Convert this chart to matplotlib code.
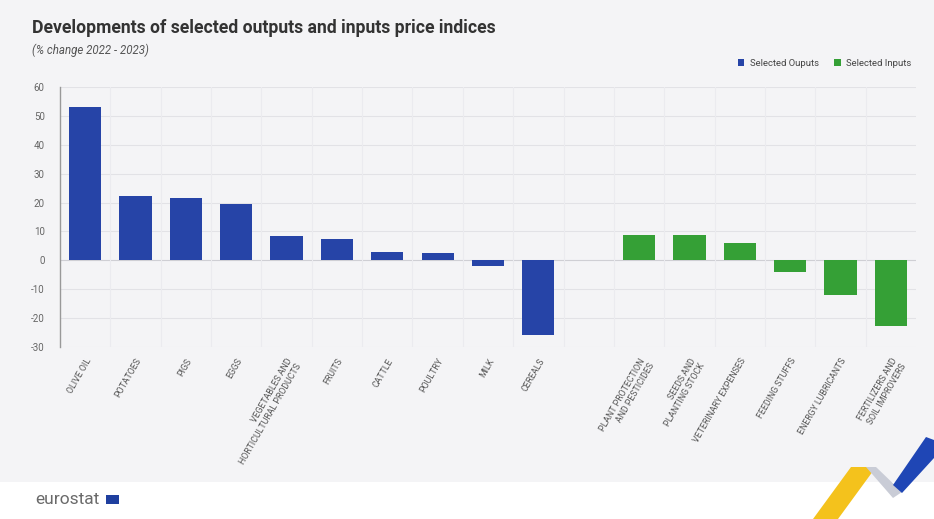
import matplotlib.pyplot as plt
from matplotlib.patches import Polygon, Rectangle
import numpy as np

plt.rcParams['font.family'] = ['Roboto', 'DejaVu Sans']

outputs = ['OLIVE OIL', 'POTATOES', 'PIGS', 'EGGS',
           'VEGETABLES AND\nHORTICULTURAL PRODUCTS', 'FRUITS', 'CATTLE',
           'POULTRY', 'MILK', 'CEREALS']
output_vals = [53.1, 22.4, 21.5, 19.4, 8.3, 7.3, 3.0, 2.4, -1.8, -25.8]

inputs = ['PLANT PROTECTION\nAND PESTICIDES', 'SEEDS AND\nPLANTING STOCK',
          'VETERINARY EXPENSES', 'FEEDING STUFFS', 'ENERGY LUBRICANTS',
          'FERTILIZERS AND\nSOIL IMPROVERS']
input_vals = [8.9, 8.9, 5.9, -4.1, -12.0, -22.8]

yticks = [-30, -20, -10, 0, 10, 20, 30, 40, 50, 60]

BLUE = '#2644a7'
GREEN = '#35a036'
BG = '#f4f4f6'

fig = plt.figure(figsize=(9.34, 5.19), dpi=100)
fig.patch.set_facecolor('white')
# grey panel behind the chart
fig.add_artist(Rectangle((0, 37 / 519), 1, 1 - 37 / 519, transform=fig.transFigure,
                         facecolor=BG, edgecolor='none', zorder=-10))

ax = fig.add_axes([60 / 934, 1 - 347 / 519, 856 / 934, 260 / 519])
ax.set_facecolor(BG)

x_out = np.arange(len(outputs))
x_in = np.arange(len(inputs)) + len(outputs) + 1
ax.bar(x_out, output_vals, width=0.64, color=BLUE, zorder=3, label='Selected Ouputs')
ax.bar(x_in, input_vals, width=0.64, color=GREEN, zorder=3, label='Selected Inputs')

n = len(outputs) + 1 + len(inputs)
ax.set_xlim(-0.5, n - 0.5)
ax.set_ylim(-30, 60)
ax.set_yticks(yticks)
ax.set_yticklabels([str(v) for v in yticks], fontsize=7, color='#666666')
ax.tick_params(axis='y', length=0, pad=11)

ax.set_xticks(list(x_out) + list(x_in))
ax.set_xticklabels(outputs + inputs, rotation=60, ha='right', rotation_mode='anchor',
                   fontsize=6.3, color='#555555', multialignment='right')
ax.tick_params(axis='x', length=0, pad=7)

# grid
for v in yticks:
    ax.axhline(v, color='#e2e2e6' if v != 0 else '#cfcfd4', lw=0.8, zorder=1)
for b in np.arange(0.5, n - 0.5, 1):
    ax.axvline(b, color='#ebebef', lw=0.8, zorder=1)

for s in ['top', 'right', 'bottom']:
    ax.spines[s].set_visible(False)
ax.spines['left'].set_color('#999999')
ax.spines['left'].set_linewidth(1.0)

# title and subtitle
fig.text(32 / 934, 1 - 28 / 519, 'Developments of selected outputs and inputs price indices',
         fontsize=12.7, fontweight='bold', color='#333333', va='center', ha='left')
fig.text(32 / 934, 1 - 50 / 519, '(% change 2022 - 2023)', fontsize=8.3, style='italic',
         color='#555555', va='center', ha='left')

leg = fig.legend(loc='center right', bbox_to_anchor=(1 - 14 / 934, 1 - 63 / 519), ncol=2,
                 frameon=False, fontsize=6.8, handlelength=0.7, handleheight=0.7,
                 columnspacing=1.6, handletextpad=0.6)
for t in leg.get_texts():
    t.set_color('#444444')

# eurostat logo
fig.text(35 / 934, 1 - 499 / 519, 'eurostat', fontsize=12.5, color='#6a6a6a',
         va='center', ha='left')
fig.add_artist(Rectangle((106 / 934, 1 - 504 / 519), 13 / 934, 9 / 519,
                         transform=fig.transFigure, facecolor='#1f3f9f', edgecolor='none'))


# ribbon decoration, bottom right
def px(pts):
    return [(x / 934, 1 - y / 519) for x, y in pts]


fig.add_artist(Polygon(px([(813, 519), (838, 519), (876, 467), (851, 467)]),
                       transform=fig.transFigure, facecolor='#f4c21c', edgecolor='none'))
fig.add_artist(Polygon(px([(866, 467), (876, 467), (902, 492), (893, 498)]),
                       transform=fig.transFigure, facecolor='#c9ccd6', edgecolor='none'))
fig.add_artist(Polygon(px([(893, 485), (902, 493), (934, 458), (934, 440), (926, 437)]),
                       transform=fig.transFigure, facecolor='#1f46b5', edgecolor='none'))

fig.savefig('out.png', dpi=100, facecolor=fig.get_facecolor())
